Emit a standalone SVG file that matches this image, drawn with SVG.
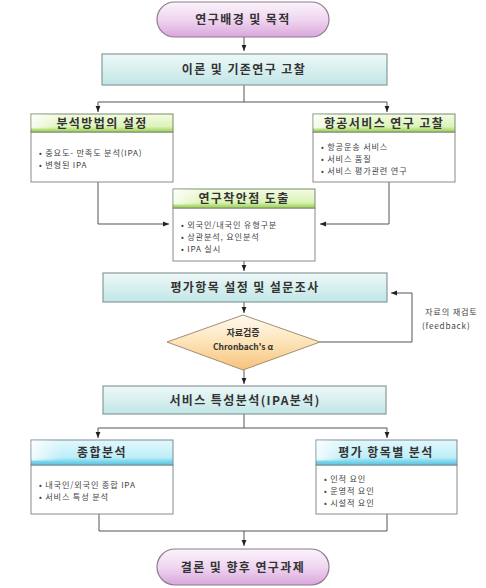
<svg xmlns="http://www.w3.org/2000/svg" width="486" height="588" viewBox="0 0 486 588">
<style>
.t{font-family:"Noto Sans CJK KR","Liberation Sans",sans-serif;font-weight:bold;fill:#333;text-anchor:middle}
.h{font-size:12px;letter-spacing:1.4px}
.b{font-family:"Noto Sans CJK KR","Liberation Sans",sans-serif;font-size:8.2px;letter-spacing:0.8px;fill:#444}
.pill{fill:url(#gPill);stroke:#8e7a8e;stroke-width:1.2}
.main{fill:url(#gMain);stroke:#8a9a9a;stroke-width:1.2}
.gh{fill:url(#gGreen);stroke:#7a8a6a;stroke-width:1}
.bh{fill:url(#gBlue);stroke:#7a8a9a;stroke-width:1}
.body{fill:#fff;stroke:#8a8a8a;stroke-width:1}
.c{fill:none;stroke:#555;stroke-width:1}
</style>
<defs>
<linearGradient id="gPill" x1="0" y1="0" x2="0" y2="1"><stop offset="0" stop-color="#fbf3fb"/><stop offset="0.5" stop-color="#f0d6f0"/><stop offset="1" stop-color="#d9a6dc"/></linearGradient>
<linearGradient id="gMain" x1="0" y1="0" x2="0" y2="1"><stop offset="0" stop-color="#eef8f8"/><stop offset="1" stop-color="#c2e6e6"/></linearGradient>
<linearGradient id="gGreen" x1="0" y1="0" x2="0" y2="1"><stop offset="0" stop-color="#f3fbe2"/><stop offset="0.7" stop-color="#dcf3b8"/><stop offset="0.85" stop-color="#b7e27e"/><stop offset="1" stop-color="#9ccf5c"/></linearGradient>
<linearGradient id="gBlue" x1="0" y1="0" x2="0" y2="1"><stop offset="0" stop-color="#e2f8fc"/><stop offset="0.7" stop-color="#bdeef8"/><stop offset="0.85" stop-color="#7fd8ec"/><stop offset="1" stop-color="#55c3e0"/></linearGradient>
<linearGradient id="gDia" x1="0" y1="0" x2="0" y2="1"><stop offset="0" stop-color="#fffaf0"/><stop offset="0.5" stop-color="#fde3b8"/><stop offset="1" stop-color="#f6c27a"/></linearGradient>
<linearGradient id="gLeft" x1="0" y1="0" x2="1" y2="0"><stop offset="0" stop-color="#fff" stop-opacity="0.8"/><stop offset="1" stop-color="#fff" stop-opacity="0"/></linearGradient>
<marker id="ah" viewBox="0 0 10 10" refX="10" refY="5" markerWidth="6" markerHeight="6" orient="auto"><path d="M0,1 L10,5 L0,9 z" fill="#222"/></marker>
</defs>

<g id="connectors">
<path class="c" d="M244,37 V51" marker-end="url(#ah)"/>
<path class="c" d="M244,85 V102"/>
<path class="c" d="M98,102 H387"/>
<path class="c" d="M98,102 V112" marker-end="url(#ah)"/>
<path class="c" d="M387,102 V112" marker-end="url(#ah)"/>
<path class="c" d="M98,182 V224 H169" marker-end="url(#ah)"/>
<path class="c" d="M389,182 V224 H320" marker-end="url(#ah)"/>
<path class="c" d="M244,261 V271" marker-end="url(#ah)"/>
<path class="c" d="M244,302 V313" marker-end="url(#ah)"/>
<path class="c" d="M320,342 H412 V293 H391" marker-end="url(#ah)"/>
<path class="c" d="M244,370 V384" marker-end="url(#ah)"/>
<path class="c" d="M244,414 V428"/>
<path class="c" d="M98,428 H387"/>
<path class="c" d="M98,428 V438" marker-end="url(#ah)"/>
<path class="c" d="M387,428 V438" marker-end="url(#ah)"/>
<path class="c" d="M99,514 V531 H387 V514"/>
<path class="c" d="M244,531 V546" marker-end="url(#ah)"/>
</g>

<g id="n-start">
<rect class="pill" x="157" y="2" width="172" height="35" rx="17.5"/>
<text class="t h" x="243" y="24">연구배경 및 목적</text>
</g>

<g id="n-theory">
<rect class="main" x="102" y="54" width="285" height="31"/>
<text class="t h" x="244" y="74">이론 및 기존연구 고찰</text>
</g>

<g id="n-method">
<rect class="body" x="31" y="132" width="142" height="50"/>
<rect class="gh" x="31" y="114" width="142" height="18"/>
<rect x="31.5" y="114.5" width="30" height="14" fill="url(#gLeft)"/>
<text class="t h" x="102" y="127.5">분석방법의 설정</text>
<text class="b" x="39" y="156">• 중요도- 만족도 분석(IPA)</text>
<text class="b" x="39" y="168">• 변형된 IPA</text>
</g>

<g id="n-airline">
<rect class="body" x="313" y="132" width="142" height="50"/>
<rect class="gh" x="313" y="114" width="142" height="18"/>
<rect x="313.5" y="114.5" width="30" height="14" fill="url(#gLeft)"/>
<text class="t h" x="384" y="127.5">항공서비스 연구 고찰</text>
<text class="b" x="321" y="150">• 항공운송 서비스</text>
<text class="b" x="321" y="162">• 서비스 품질</text>
<text class="b" x="321" y="174">• 서비스 평가관련 연구</text>
</g>

<g id="n-point">
<rect class="body" x="173" y="208" width="142" height="53"/>
<rect class="gh" x="173" y="189" width="142" height="19"/>
<rect x="173.5" y="189.5" width="30" height="15" fill="url(#gLeft)"/>
<text class="t h" x="244" y="203">연구착안점 도출</text>
<text class="b" x="181" y="228">• 외국인/내국인 유형구분</text>
<text class="b" x="181" y="240">• 상관분석, 요인분석</text>
<text class="b" x="181" y="252">• IPA 실시</text>
</g>

<g id="n-survey">
<rect class="main" x="103" y="273" width="284" height="29"/>
<text class="t h" x="245" y="292">평가항목 설정 및 설문조사</text>
</g>

<g id="n-verify">
<path d="M243,315 L320,342 L243,370 L167,342 Z" fill="url(#gDia)" stroke="#a09070" stroke-width="1"/>
<text class="t" x="243" y="336" font-size="9">자료검증</text>
<text class="t" x="243" y="350" font-size="8.5" font-family="Liberation Sans,sans-serif">Chronbach's α</text>
</g>

<g id="feedback-label">
<text class="b" x="425" y="315" font-size="9.5" letter-spacing="1.2">자료의 재검토</text>
<text class="b" x="422" y="329" font-size="9">(feedback)</text>
</g>

<g id="n-service">
<rect class="main" x="103" y="386" width="283" height="28"/>
<text class="t h" x="245" y="404.5">서비스 특성분석(IPA분석)</text>
</g>

<g id="n-overall">
<rect class="body" x="31" y="465" width="142" height="49"/>
<rect class="bh" x="31" y="440" width="142" height="25"/>
<rect x="31.5" y="440.5" width="30" height="20" fill="url(#gLeft)"/>
<text class="t h" x="102" y="457">종합분석</text>
<text class="b" x="39" y="488">• 내국인/외국인 종합 IPA</text>
<text class="b" x="39" y="500">• 서비스 특성 분석</text>
</g>

<g id="n-items">
<rect class="body" x="316" y="465" width="141" height="49"/>
<rect class="bh" x="316" y="440" width="141" height="25"/>
<rect x="316.5" y="440.5" width="30" height="20" fill="url(#gLeft)"/>
<text class="t h" x="386" y="457">평가 항목별 분석</text>
<text class="b" x="324" y="482">• 인적 요인</text>
<text class="b" x="324" y="494">• 운영적 요인</text>
<text class="b" x="324" y="506">• 시설적 요인</text>
</g>

<g id="n-end">
<rect class="pill" x="157" y="549" width="172" height="36" rx="18"/>
<text class="t h" x="243" y="571.5">결론 및 향후 연구과제</text>
</g>
</svg>
